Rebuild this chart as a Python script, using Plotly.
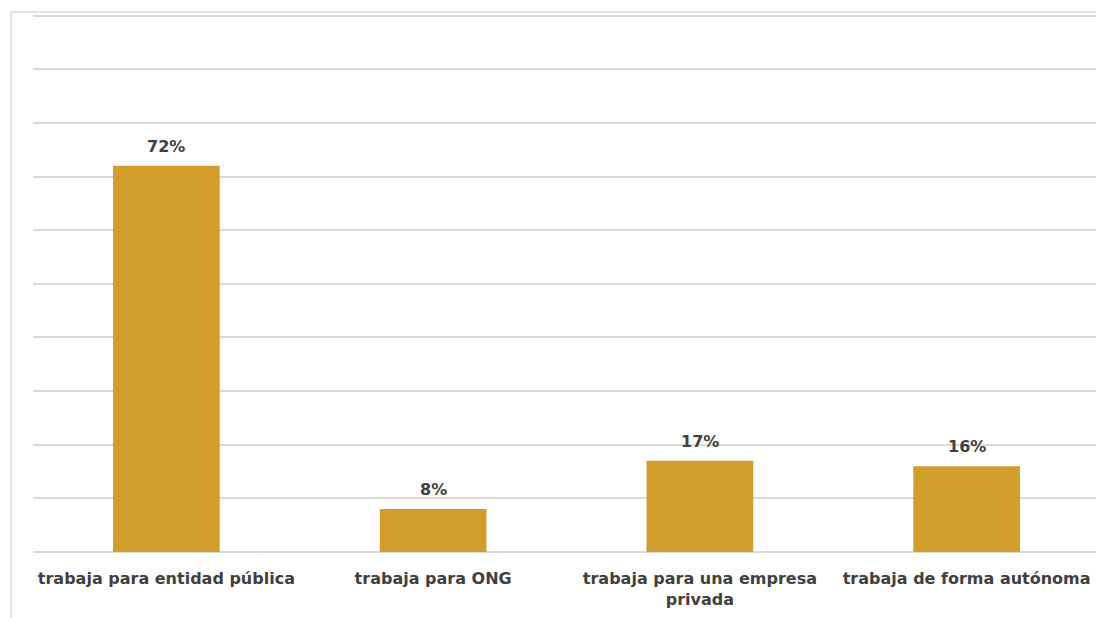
import plotly.graph_objects as go

categories = [
    "trabaja para entidad pública",
    "trabaja para ONG",
    "trabaja para una empresa<br>privada",
    "trabaja de forma autónoma",
]
values = [72, 8, 17, 16]
value_labels = ["72%", "8%", "17%", "16%"]

bar_color = "#D29E2B"
text_color = "#404040"
grid_color = "#D9D9D9"
font_family = "DejaVu Sans, Arial, sans-serif"

fig = go.Figure(
    go.Bar(
        x=categories,
        y=values,
        marker=dict(color=bar_color, line=dict(width=0)),
        hoverinfo="skip",
    )
)

for c, v, t in zip(categories, values, value_labels):
    fig.add_annotation(
        x=c, y=v, text=f"<b>{t}</b>", showarrow=False,
        yanchor="bottom", yshift=8,
        font=dict(family=font_family, size=16, color=text_color),
    )

fig.update_layout(
    width=1096,
    height=610,
    margin=dict(l=25, r=4, t=5, b=66),
    paper_bgcolor="white",
    plot_bgcolor="white",
    bargap=0.6,
    showlegend=False,
    font=dict(family=font_family, size=16, color=text_color),
    xaxis=dict(
        showgrid=False,
        showline=False,
        ticks="",
        tickfont=dict(family=font_family, size=16, color=text_color, weight="bold"),
        ticklabelstandoff=15,
    ),
    yaxis=dict(
        range=[0, 100.5],
        tickvals=[0, 10, 20, 30, 40, 50, 60, 70, 80, 90, 100],
        showticklabels=False,
        showgrid=True,
        gridcolor=grid_color,
        gridwidth=1.5,
        zeroline=True,
        zerolinecolor=grid_color,
        zerolinewidth=1.5,
        showline=False,
    ),
)

# outer chart frame
fig.add_shape(type="line", xref="paper", yref="paper",
              x0=-0.0206, x1=1.02, y0=1.0019, y1=1.0019,
              line=dict(color=grid_color, width=1.5))
fig.add_shape(type="line", xref="paper", yref="paper",
              x0=-0.0206, x1=-0.0206, y0=1.0019, y1=-0.2,
              line=dict(color=grid_color, width=1.5))

fig.write_html("out.html")
